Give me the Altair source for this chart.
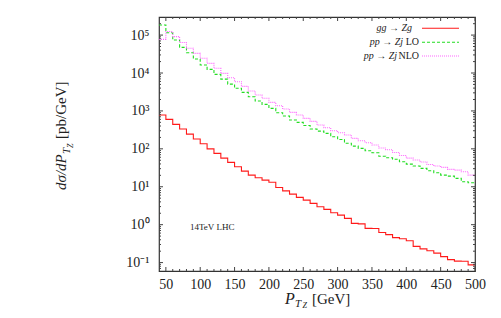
import altair as alt
import pandas as pd

# ---------------- data ----------------
bin_lo = list(range(40, 500, 10))   # lower bin edges, 10 GeV bins
x_max = 500

gg_Zg = [778, 600, 443, 333, 245, 181, 136, 100, 76, 57,
         44, 33.6, 25.9, 20.3, 17.3, 15.0, 13.1, 9.6, 7.8, 6.4,
         5.25, 4.45, 3.64, 2.96, 2.53, 2.06, 1.79, 1.47, 1.08, 1.05,
         0.80, 0.79, 0.62, 0.545, 0.456, 0.424, 0.376, 0.267, 0.23, 0.205,
         0.178, 0.144, 0.12, 0.109, 0.108, 0.087]

pp_Zj_LO = [1.85e5, 1.15e5, 7.4e4, 4.75e4, 3.43e4, 2.34e4, 1.63e4, 1.25e4, 9.2e3, 6.9e3,
            5.1e3, 3.95e3, 3.09e3, 2.37e3, 1.82e3, 1.49e3, 1.17e3, 895, 733, 574,
            500, 411, 333, 294, 256, 208, 176, 140, 118, 103,
            89, 79, 64, 58, 53, 45.6, 39.6, 35.2, 30.5, 26.4,
            23.4, 20.3, 19.1, 16.6, 13.5, 12.7]

pp_Zj_NLO = [7.7e4, 1.24e5, 9.1e4, 6.4e4, 4.5e4, 3.3e4, 2.44e4, 1.8e4, 1.33e4, 9.8e3,
             7.5e3, 5.9e3, 4.45e3, 3.34e3, 2.62e3, 2.15e3, 1.68e3, 1.37e3, 1.12e3, 916,
             778, 637, 531, 424, 360, 300, 265, 231, 189, 163,
             145, 126, 105, 95, 80, 66.5, 57, 51, 45, 38.5,
             35.2, 32.4, 28.8, 27.5, 24.8, 20.3]

series_names = ["gg → Zg", "pp → Zj LO", "pp → Zj NLO"]
series_colors = ["#ff1a1a", "#22dd22", "#ff66ff"]
series_dashes = [[1, 0], [3, 2], [1, 1]]

x_tick_values = [50, 100, 150, 200, 250, 300, 350, 400, 450, 500]
x_minor_ticks = [v for v in range(40, 501, 10) if v % 50 != 0 and v > 40]
y_tick_values = [0.1, 1, 10, 100, 1000, 10000, 100000]
y_tick_labels = ["10⁻¹", "10⁰", "10¹", "10²", "10³", "10⁴", "10⁵"]
y_minor_ticks = [m * 10.0 ** k for k in range(-2, 6) for m in range(2, 10)
                 if 0.06 < m * 10.0 ** k < 3e5]

# ---------------- build table ----------------
rows = []
for name, vals in zip(series_names, [gg_Zg, pp_Zj_LO, pp_Zj_NLO]):
    for e, v in zip(bin_lo, vals):
        rows.append({"pt": e, "val": v, "series": name})
    rows.append({"pt": x_max, "val": vals[-1], "series": name})
df = pd.DataFrame(rows)

W, H = 316, 254
FONT = "Liberation Serif"
INK = "#222222"
TICK = "#444444"

xs = alt.Scale(domain=[40, 500], nice=False, zero=False)
ys = alt.Scale(type="log", domain=[0.06, 3e5], nice=False)

label_expr = " : ".join(
    [f"datum.value < {v * 3.0} ? '{lab}'" for v, lab in zip(y_tick_values[:-1], y_tick_labels[:-1])]
) + f" : '{y_tick_labels[-1]}'"

X_AXIS = alt.Axis(values=x_tick_values, ticks=False, domain=False, grid=False,
                  labelPadding=6, labelFontSize=14, labelFont=FONT, labelColor=INK,
                  labelFlush=False, labelOverlap=False, title=None)
Y_AXIS = alt.Axis(values=y_tick_values, labelExpr=label_expr, ticks=False, domain=False,
                  grid=False, labelPadding=10, labelFontSize=14, labelFont=FONT,
                  labelColor=INK, labelOverlap=False, title=None)

lines = alt.Chart(df).mark_line(interpolate="step-after", strokeWidth=1.1, clip=True).encode(
    x=alt.X("pt:Q", scale=xs, axis=X_AXIS, title=None),
    y=alt.Y("val:Q", scale=ys, axis=Y_AXIS, title=None),
    color=alt.Color("series:N", scale=alt.Scale(domain=series_names, range=series_colors), legend=None),
    strokeDash=alt.StrokeDash("series:N", scale=alt.Scale(domain=series_names, range=series_dashes),
                              legend=None),
    order=alt.Order("pt:Q"),
)


def xticks(vals, length):
    base = alt.Chart(pd.DataFrame({"pt": vals})).mark_rule(color=TICK, strokeWidth=1)
    bot = base.encode(x=alt.X("pt:Q", scale=xs, axis=X_AXIS, title=None),
                      y=alt.value(H), y2=alt.value(H - length))
    top = base.encode(x=alt.X("pt:Q", scale=xs, axis=X_AXIS, title=None),
                      y=alt.value(0), y2=alt.value(length))
    return [bot, top]


def yticks(vals, length):
    base = alt.Chart(pd.DataFrame({"val": vals})).mark_rule(color=TICK, strokeWidth=1)
    left = base.encode(y=alt.Y("val:Q", scale=ys, axis=Y_AXIS, title=None),
                       x=alt.value(0), x2=alt.value(length))
    right = base.encode(y=alt.Y("val:Q", scale=ys, axis=Y_AXIS, title=None),
                        x=alt.value(W - length), x2=alt.value(W))
    return [left, right]


def txt(s, x, y, size, italic=False, align="left", angle=0, baseline="alphabetic"):
    kw = dict(text=s, font=FONT, fontSize=size, align=align, baseline=baseline, color=INK)
    if italic:
        kw["fontStyle"] = "italic"
    if angle:
        kw["angle"] = angle
    return alt.Chart(pd.DataFrame({"a": [0]})).mark_text(**kw).encode(x=alt.value(x), y=alt.value(y))


def sample(color, dash, y):
    return alt.Chart(pd.DataFrame({"a": [0]})).mark_rule(
        color=color, strokeDash=dash, strokeWidth=1.1
    ).encode(x=alt.value(263), x2=alt.value(300), y=alt.value(y))


layers = [lines]
layers += xticks(x_tick_values, 4) + xticks(x_minor_ticks, 2)
layers += yticks(y_tick_values, 4) + yticks(y_minor_ticks, 2)

# legend
layers += [
    txt("gg → Zg", 253, 11.3, 10, italic=True, align="right", baseline="middle"),
    txt("pp → Zj", 244, 25.3, 10, italic=True, align="right", baseline="middle"),
    txt("LO", 260, 25.3, 10, align="right", baseline="middle"),
    txt("pp → Zj", 238, 39, 10, italic=True, align="right", baseline="middle"),
    txt("NLO", 260, 39, 10, align="right", baseline="middle"),
    sample(series_colors[0], series_dashes[0], 11.3),
    sample(series_colors[1], series_dashes[1], 25.3),
    sample(series_colors[2], series_dashes[2], 39),
]

# annotation
layers.append(txt("14TeV LHC", 31, 210, 9, baseline="middle"))

# x axis title  P_{T_Z} [GeV]
layers += [
    txt("P", 126, 287, 16, italic=True),
    txt("T", 136, 289.5, 11, italic=True),
    txt("Z", 143.5, 291, 8, italic=True),
    txt("[GeV]", 153, 287, 15),
]

# y axis title  dσ/dP_{T_Z} [pb/GeV]
layers += [
    txt("dσ/dP", -93, 173, 15, italic=True, angle=270),
    txt("T", -89, 137, 11, italic=True, angle=270),
    txt("Z", -86, 131, 8, italic=True, angle=270),
    txt("[pb/GeV]", -93, 122, 15, angle=270),
]

chart = alt.layer(*layers).properties(
    width=W, height=H,
    autosize=alt.AutoSizeParams(type="none"),
    padding={"left": 151, "top": 9, "right": 18, "bottom": 38},
).configure_view(stroke="#333333", strokeWidth=1.2)

chart.save("out.html", embed_options={"renderer": "svg", "actions": False})
